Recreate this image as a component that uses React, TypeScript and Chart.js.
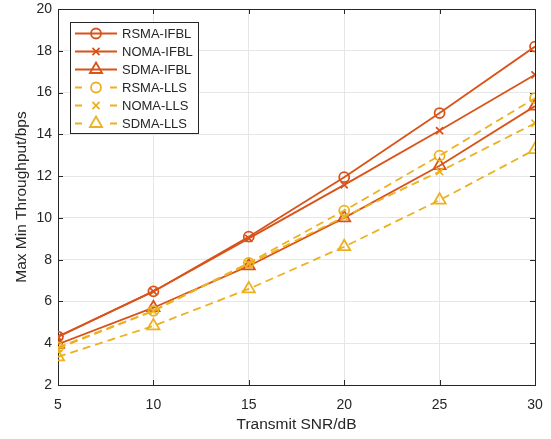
import React, { useEffect, useRef } from 'react';
import { Chart, registerables } from 'chart.js';
Chart.register(...registerables);

const snr = [5, 10, 15, 20, 25, 30];
const rsmaIfbl = [4.32, 6.48, 9.1, 11.95, 15.02, 18.2];
const nomaIfbl = [4.3, 6.48, 9.02, 11.58, 14.18, 16.85];
const sdmaIfbl = [3.95, 5.7, 7.7, 10.0, 12.5, 15.35];
const rsmaLls = [3.8, 5.55, 7.85, 10.35, 12.98, 15.73];
const nomaLls = [3.75, 5.55, 7.8, 10.05, 12.22, 14.53];
const sdmaLls = [3.35, 4.83, 6.6, 8.62, 10.85, 13.27];
const seriesNames = ['RSMA-IFBL', 'NOMA-IFBL', 'SDMA-IFBL', 'RSMA-LLS', 'NOMA-LLS', 'SDMA-LLS'];
const yTicks = [2, 4, 6, 8, 10, 12, 14, 16, 18, 20];
const xTicks = [5, 10, 15, 20, 25, 30];

const RED = '#D95319';
const YEL = '#EDB120';
const AX = '#262626';
const GRID = '#e6e6e6';
const FONT = '"Liberation Sans", Arial, Helvetica, sans-serif';

const allSeries = [rsmaIfbl, nomaIfbl, sdmaIfbl, rsmaLls, nomaLls, sdmaLls];
const styles = ['circle', 'crossRot', 'triangle', 'circle', 'crossRot', 'triangle'];
const radii = [5, 5, 7, 5, 5, 7];

function drawMarker(ctx: CanvasRenderingContext2D, style: string, x: number, y: number, r: number) {
  ctx.beginPath();
  if (style === 'circle') {
    ctx.arc(x, y, r, 0, Math.PI * 2);
    ctx.closePath();
  } else if (style === 'triangle') {
    for (let i = 0; i < 3; i++) {
      const a = (i * 2 * Math.PI) / 3;
      const px = x + Math.sin(a) * r;
      const py = y - Math.cos(a) * r;
      if (i === 0) ctx.moveTo(px, py); else ctx.lineTo(px, py);
    }
    ctx.closePath();
  } else {
    const d = Math.cos(Math.PI / 4) * r;
    ctx.moveTo(x - d, y - d); ctx.lineTo(x + d, y + d);
    ctx.moveTo(x - d, y + d); ctx.lineTo(x + d, y - d);
  }
  ctx.stroke();
}

const framePlugin = {
  id: 'frame',
  beforeDatasetsDraw(chart: any) {
    const { ctx, chartArea: a, scales } = chart;
    ctx.save();
    ctx.strokeStyle = AX;
    ctx.lineWidth = 1;
    ctx.setLineDash([]);
    ctx.strokeRect(Math.round(a.left) + 0.5, Math.round(a.top) + 0.5, Math.round(a.right - a.left), Math.round(a.bottom - a.top));
    const tl = 5;
    ctx.beginPath();
    for (const v of xTicks) {
      const px = Math.round(scales.x.getPixelForValue(v)) + 0.5;
      ctx.moveTo(px, a.bottom); ctx.lineTo(px, a.bottom - tl);
      ctx.moveTo(px, a.top); ctx.lineTo(px, a.top + tl);
    }
    for (const v of yTicks) {
      const py = Math.round(scales.y.getPixelForValue(v)) + 0.5;
      ctx.moveTo(a.left, py); ctx.lineTo(a.left + tl, py);
      ctx.moveTo(a.right, py); ctx.lineTo(a.right - tl, py);
    }
    ctx.stroke();
    ctx.restore();
  },
  afterDraw(chart: any) {
    const { ctx, chartArea: a } = chart;
    ctx.save();
    const bx = a.left + 12, by = a.top + 13, bw = 128, bh = 111;
    ctx.fillStyle = '#ffffff';
    ctx.fillRect(bx, by, bw, bh);
    ctx.strokeStyle = AX;
    ctx.lineWidth = 1;
    ctx.strokeRect(Math.round(bx) + 0.5, Math.round(by) + 0.5, bw, bh);
    ctx.font = `13px ${FONT}`;
    ctx.textBaseline = 'middle';
    ctx.textAlign = 'left';
    for (let i = 0; i < seriesNames.length; i++) {
      const y = by + 11.5 + i * 18;
      const color = i < 3 ? RED : YEL;
      const x0 = bx + 5, x1 = bx + 47, mx = bx + 26;
      ctx.strokeStyle = color;
      ctx.lineWidth = 1.8;
      ctx.setLineDash([]);
      ctx.beginPath();
      if (i < 3) {
        ctx.moveTo(x0, y); ctx.lineTo(x1, y);
      } else {
        ctx.moveTo(x0, y); ctx.lineTo(x0 + 7, y);
        ctx.moveTo(x1 - 7, y); ctx.lineTo(x1, y);
      }
      ctx.stroke();
      drawMarker(ctx, styles[i], mx, y, radii[i]);
      ctx.fillStyle = AX;
      ctx.fillText(seriesNames[i], bx + 52, y + 0.5);
    }
    ctx.restore();
  },
};

export default function App() {
  const ref = useRef<HTMLCanvasElement>(null);
  useEffect(() => {
    if (!ref.current) return;
    const datasets = allSeries.map((vals, i) => ({
      label: seriesNames[i],
      data: snr.map((x, j) => ({ x, y: vals[j] })),
      borderColor: i < 3 ? RED : YEL,
      backgroundColor: 'rgba(0,0,0,0)',
      borderWidth: 1.8,
      borderDash: i < 3 ? [] : [8, 5],
      pointStyle: styles[i],
      pointRadius: radii[i],
      pointBorderWidth: 1.8,
      pointBorderColor: i < 3 ? RED : YEL,
      pointBackgroundColor: 'rgba(0,0,0,0)',
      tension: 0,
      fill: false,
      order: 6 - i,
    }));
    const chart = new Chart(ref.current, {
      type: 'line',
      data: { datasets },
      plugins: [framePlugin],
      options: {
        responsive: false,
        animation: false,
        layout: { padding: { left: 0, right: 16, top: 9, bottom: 0 } },
        plugins: { legend: { display: false }, tooltip: { enabled: false } },
        scales: {
          x: {
            type: 'linear',
            min: 5,
            max: 30,
            afterFit: (s: any) => { s.height = 54; s.paddingLeft = 0; s.paddingRight = 0; },
            afterBuildTicks: (s: any) => { s.ticks = xTicks.map((v) => ({ value: v })); },
            ticks: { color: AX, font: { family: FONT, size: 14 }, padding: 12, maxRotation: 0 },
            grid: { color: GRID, drawTicks: false, lineWidth: 1 },
            border: { display: false },
            title: { display: true, text: 'Transmit SNR/dB', color: AX, font: { family: FONT, size: 15.5 }, padding: { top: 5, bottom: 5 } },
          },
          y: {
            type: 'linear',
            min: 2,
            max: 20,
            afterFit: (s: any) => { s.width = 58; s.paddingTop = 0; s.paddingBottom = 0; },
            afterBuildTicks: (s: any) => { s.ticks = yTicks.map((v) => ({ value: v })); },
            ticks: { color: AX, font: { family: FONT, size: 14 }, padding: 6 },
            grid: { color: GRID, drawTicks: false, lineWidth: 1 },
            border: { display: false },
            title: { display: true, text: 'Max Min Throughput/bps', color: AX, font: { family: FONT, size: 15.5 }, padding: { top: 12.5, bottom: 12.5 } },
          },
        },
      },
    });
    return () => chart.destroy();
  }, []);
  return (
    <div style={{ position: 'absolute', left: 0, top: 0, width: 551, height: 439, background: '#fff' }}>
      <canvas ref={ref} width={551} height={439} style={{ display: 'block' }} />
    </div>
  );
}
